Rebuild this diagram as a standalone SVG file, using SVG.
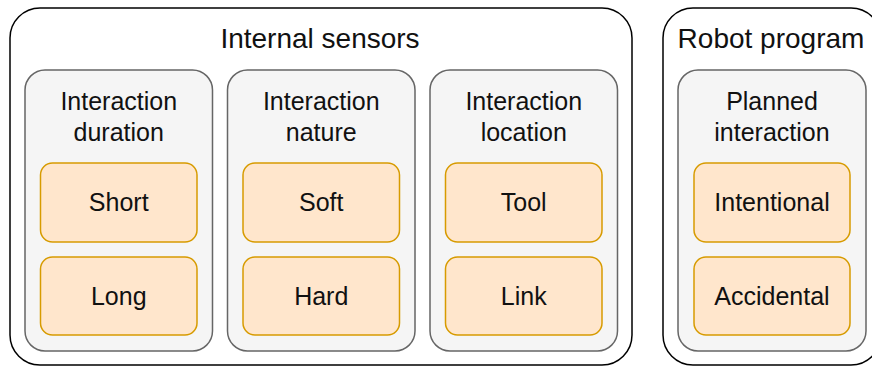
<svg xmlns="http://www.w3.org/2000/svg" width="872" height="367" viewBox="0 0 872 367">
<style>
.outer{fill:#ffffff;stroke:#000000;stroke-width:1.5}
.inner{fill:#f5f5f5;stroke:#666666;stroke-width:1.5}
.leaf{fill:#ffe6cc;stroke:#d79b00;stroke-width:1.5}
text{font-family:"Liberation Sans",Arial,sans-serif;fill:#111111;text-anchor:middle}
.t1{font-size:28px}
.t2{font-size:25px}
.t3{font-size:25px}
</style>
<rect width="872" height="367" fill="#ffffff"/>
<g id="internal-sensors">
<rect class="outer" x="10" y="8" width="622" height="357" rx="30" ry="30"/>
<text class="t1" x="320" y="48">Internal sensors</text>
</g>
<g id="robot-program">
<rect class="outer" x="663" y="8" width="218" height="357" rx="30" ry="30"/>
<text class="t1" x="771" y="48">Robot program</text>
</g>
<g id="interaction-duration">
<rect class="inner" x="25" y="70" width="187.5" height="281" rx="20" ry="20"/>
<text class="t2" x="118.75" y="110">Interaction</text>
<text class="t2" x="118.75" y="141">duration</text>
</g>
<g id="interaction-nature">
<rect class="inner" x="227.5" y="70" width="187.5" height="281" rx="20" ry="20"/>
<text class="t2" x="321.25" y="110">Interaction</text>
<text class="t2" x="321.25" y="141">nature</text>
</g>
<g id="interaction-location">
<rect class="inner" x="430" y="70" width="187.5" height="281" rx="20" ry="20"/>
<text class="t2" x="523.75" y="110">Interaction</text>
<text class="t2" x="523.75" y="141">location</text>
</g>
<g id="planned-interaction">
<rect class="inner" x="678" y="70" width="188" height="281" rx="20" ry="20"/>
<text class="t2" x="772" y="110">Planned</text>
<text class="t2" x="772" y="141">interaction</text>
</g>
<g id="short"><rect class="leaf" x="40.5" y="163" width="156.5" height="79" rx="12" ry="12"/><text class="t3" x="118.75" y="211">Short</text></g>
<g id="long"><rect class="leaf" x="40.5" y="257" width="156.5" height="78" rx="12" ry="12"/><text class="t3" x="118.75" y="305">Long</text></g>
<g id="soft"><rect class="leaf" x="243" y="163" width="156.5" height="79" rx="12" ry="12"/><text class="t3" x="321.25" y="211">Soft</text></g>
<g id="hard"><rect class="leaf" x="243" y="257" width="156.5" height="78" rx="12" ry="12"/><text class="t3" x="321.25" y="305">Hard</text></g>
<g id="tool"><rect class="leaf" x="445.5" y="163" width="156.5" height="79" rx="12" ry="12"/><text class="t3" x="523.75" y="211">Tool</text></g>
<g id="link"><rect class="leaf" x="445.5" y="257" width="156.5" height="78" rx="12" ry="12"/><text class="t3" x="523.75" y="305">Link</text></g>
<g id="intentional"><rect class="leaf" x="694" y="163" width="156" height="79" rx="12" ry="12"/><text class="t3" x="772" y="211">Intentional</text></g>
<g id="accidental"><rect class="leaf" x="694" y="257" width="156" height="78" rx="12" ry="12"/><text class="t3" x="772" y="305">Accidental</text></g>
<g id="connectors"></g>
</svg>
